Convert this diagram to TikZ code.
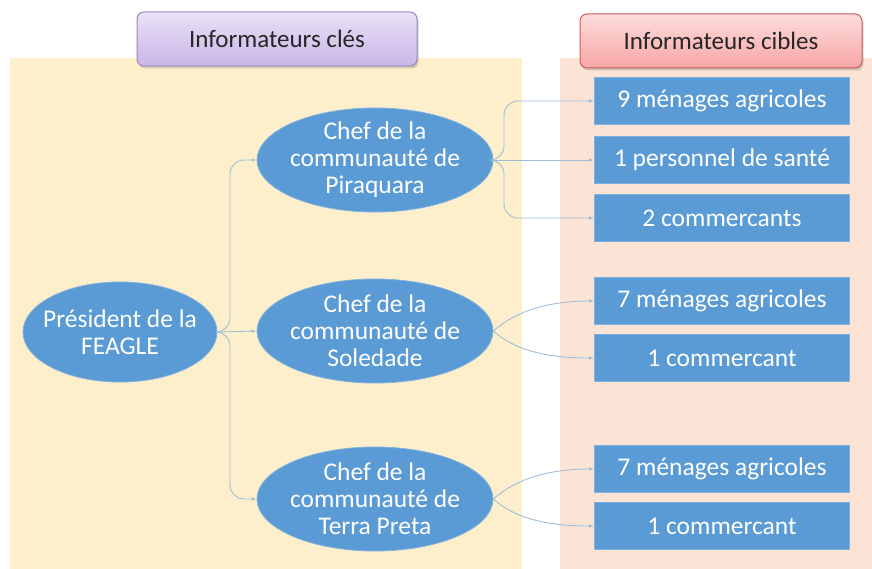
\documentclass[tikz,border=0pt]{standalone}
\usepackage{fontspec}
\setmainfont{Carlito}
\usetikzlibrary{shapes.geometric,arrows.meta,shadows}
\definecolor{panelY}{HTML}{FDEFCB}
\definecolor{panelP}{HTML}{FBE3D5}
\definecolor{blueF}{HTML}{5B9BD5}
\definecolor{blueB}{HTML}{7FB0DE}
\definecolor{lineC}{HTML}{9FBCD8}
\definecolor{purT}{HTML}{E9E1F6}
\definecolor{purB}{HTML}{C9B6E7}
\definecolor{purD}{HTML}{9C86C6}
\definecolor{redT}{HTML}{FDDCDC}
\definecolor{redB}{HTML}{F7A6A6}
\definecolor{redD}{HTML}{CF5C5C}
\definecolor{txtD}{HTML}{262626}
\begin{document}
\begin{tikzpicture}[x=1pt,y=-1pt,
  ell/.style={ellipse,fill=blueF,draw=blueB,line width=0.8pt,text=white,align=center,
    inner sep=-20pt,minimum width=236pt,minimum height=104pt,
    font=\fontsize{25.5}{27}\selectfont},
  bx/.style={rectangle,fill=blueF,draw=blueB,line width=0.8pt,text=white,
    inner sep=0pt,minimum width=255pt,minimum height=47pt,
    font=\fontsize{25.5}{28}\selectfont},
  hdr/.style={rectangle,rounded corners=7pt,line width=1pt,text=txtD,
    inner sep=0pt,minimum width=280pt,minimum height=54pt,
    font=\fontsize{25}{28}\selectfont,
    drop shadow={shadow xshift=1.5pt,shadow yshift=-2.5pt,opacity=0.35}},
  conn/.style={draw=lineC,line width=0.9pt,rounded corners=14pt,
    -{Latex[length=5pt,width=3.5pt]}}
]
\useasboundingbox (0,0) rectangle (872,569);
\fill[white] (0,0) rectangle (872,569);
% panels
\fill[panelY] (10,58) rectangle (522,569);
\fill[panelP] (560,58) rectangle (872,569);
% headers
\node[hdr,draw=purD,top color=purT,bottom color=purB] (h1) at (277,39) {Informateurs clés};
\node[hdr,draw=redD,top color=redT,bottom color=redB,minimum width=282pt] (h2) at (721,41) {Informateurs cibles};
% ellipses
\node[ell,minimum width=194pt,minimum height=100pt] (pres) at (120,332) {Président de la\\FEAGLE};
\node[ell] (c1) at (375,160) {Chef de la\\communauté de\\Piraquara};
\node[ell] (c2) at (375,331) {Chef de la\\communauté de\\Soledade};
\node[ell] (c3) at (375,499) {Chef de la\\communauté de\\Terra Preta};
% boxes
\node[bx] (b1) at (722,101) {9 ménages agricoles};
\node[bx] (b2) at (722,160) {1 personnel de santé};
\node[bx] (b3) at (722,218) {2 commercants};
\node[bx] (b4) at (722,301) {7 ménages agricoles};
\node[bx] (b5) at (722,358) {1 commercant};
\node[bx] (b6) at (722,469) {7 ménages agricoles};
\node[bx] (b7) at (722,526) {1 commercant};
% connector guides
\coordinate (vp) at (230,0);
\coordinate (va) at (504,0);
% connectors
\draw[conn] (pres.east) -- (pres.east -| vp) |- (c1.west);
\draw[conn] (pres.east) -- (c2.west);
\draw[conn] (pres.east) -- (pres.east -| vp) |- (c3.west);
\draw[conn] (c1.east) -- (c1.east -| va) |- (b1.west);
\draw[conn] (c1.east) -- (b2.west);
\draw[conn] (c1.east) -- (c1.east -| va) |- (b3.west);
\draw[conn] (c2.east) .. controls +(22,-20) and +(-45,0) .. (b4.west);
\draw[conn] (c2.east) .. controls +(22,20) and +(-45,0) .. (b5.west);
\draw[conn] (c3.east) .. controls +(22,-20) and +(-45,0) .. (b6.west);
\draw[conn] (c3.east) .. controls +(22,20) and +(-45,0) .. (b7.west);
\end{tikzpicture}
\end{document}
